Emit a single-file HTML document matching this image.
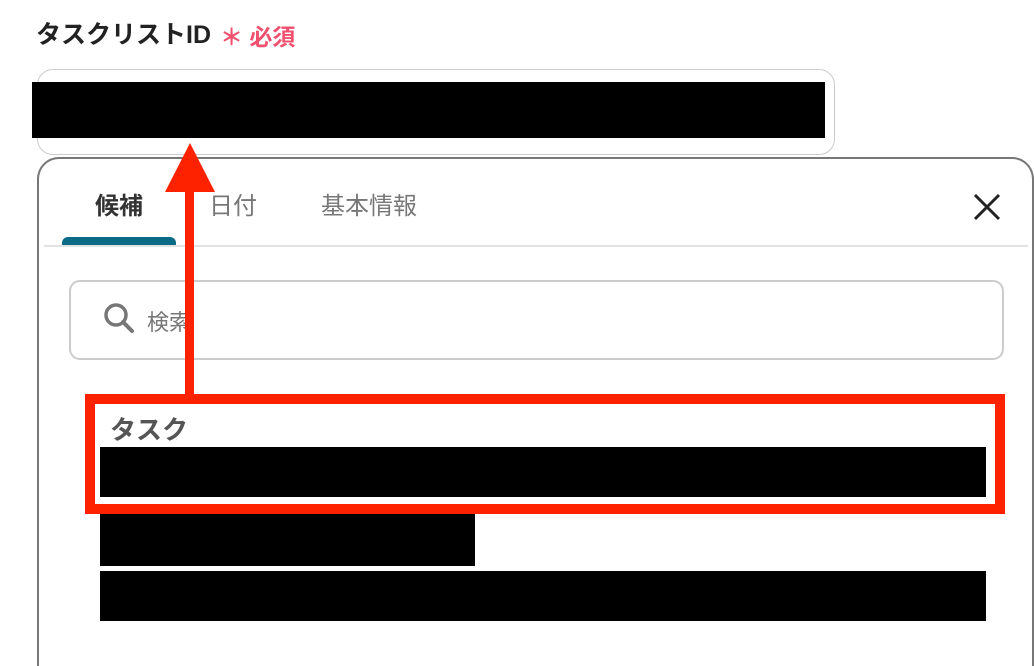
<!DOCTYPE html>
<html style="width:1034px;height:666px;overflow:hidden"><head><meta charset="utf-8"><style>
body{margin:0;width:1034px;height:666px;overflow:hidden;background:#fff;position:relative;font-family:"Liberation Sans","Noto Sans CJK JP",sans-serif}
.a{position:absolute}
.blk{position:absolute;background:#000}
</style></head><body>
<div class="a" style="left:36px;top:15px;font-size:25px;color:#222;font-weight:bold">タスクリストID</div>
<div class="a" style="left:220px;top:18px;font-size:23px;color:#f0506e;font-weight:bold">＊ 必須</div>
<div class="a" style="left:37px;top:69px;width:796px;height:84px;border:1.5px solid #ccc;border-radius:16px"></div>
<div class="blk" style="left:32px;top:82px;width:793px;height:56px"></div>
<div class="a" style="left:37px;top:157px;width:993px;height:507px;border:2px solid #777;border-bottom:none;border-radius:22px 22px 0 0;background:#fff"></div>
<div class="a" style="left:95px;top:186px;font-size:24px;color:#333;font-weight:bold">候補</div>
<div class="a" style="left:209px;top:186px;font-size:24px;color:#777">日付</div>
<div class="a" style="left:321px;top:186px;font-size:24px;color:#777">基本情報</div>
<div class="a" style="left:62px;top:237px;width:114px;height:9px;background:#0b6a85;border-radius:6px 6px 0 0"></div>
<div class="a" style="left:44px;top:245px;width:984px;height:2px;background:#e2e2e2"></div>
<svg class="a" style="left:972px;top:192px" width="30" height="30"><path d="M3 3L27 27M27 3L3 27" stroke="#222" stroke-width="3"/></svg>
<div class="a" style="left:69px;top:280px;width:931px;height:76px;border:2px solid #ccc;border-radius:11px"></div>
<svg class="a" style="left:103px;top:302px" width="34" height="34"><circle cx="13" cy="13" r="10" fill="none" stroke="#777" stroke-width="3.5"/><path d="M20 20L29 29" stroke="#777" stroke-width="4" stroke-linecap="round"/></svg>
<div class="a" style="left:147px;top:305px;font-size:22px;color:#777">検索</div>
<div class="a" style="left:110px;top:410px;font-size:26px;color:#555;font-weight:bold">タスク</div>
<div class="blk" style="left:100px;top:447px;width:886px;height:50px"></div>
<div class="blk" style="left:100px;top:514px;width:375px;height:52px"></div>
<div class="blk" style="left:100px;top:571px;width:886px;height:50px"></div>
<div class="a" style="left:85px;top:394px;width:900px;height:100px;border:10px solid #ff2200"></div>
<div class="a" style="left:185px;top:190px;width:9px;height:206px;background:#ff2200"></div>
<svg class="a" style="left:160px;top:140px" width="60" height="55"><polygon points="30,3 55,52 5,52" fill="#ff2200"/></svg>
</body></html>
